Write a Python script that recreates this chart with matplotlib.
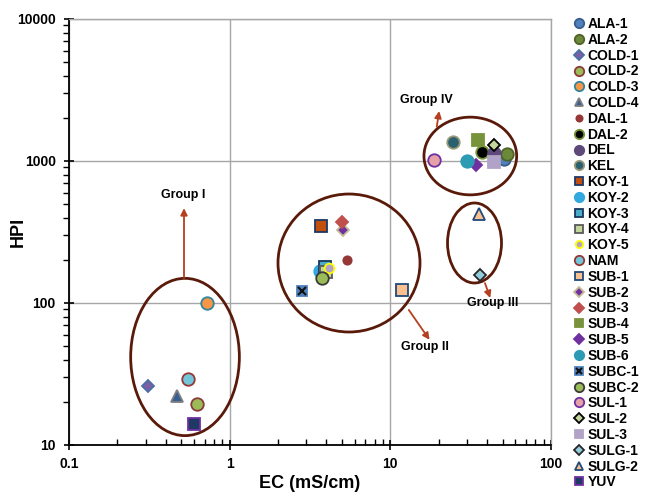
import matplotlib
matplotlib.use("Agg")
import matplotlib.pyplot as plt
from matplotlib.patches import Ellipse
from matplotlib.legend_handler import HandlerTuple
from matplotlib.ticker import LogLocator, NullFormatter, FuncFormatter

plt.rcParams['font.family'] = ['Liberation Sans', 'DejaVu Sans']
plt.rcParams['font.weight'] = 'bold'

# ---- data ----
sites = ["ALA-1", "ALA-2", "COLD-1", "COLD-2", "COLD-3", "COLD-4", "DAL-1", "DAL-2",
         "DEL", "KEL", "KOY-1", "KOY-2", "KOY-3", "KOY-4", "KOY-5", "NAM", "SUB-1",
         "SUB-2", "SUB-3", "SUB-4", "SUB-5", "SUB-6", "SUBC-1", "SUBC-2", "SUL-1",
         "SUL-2", "SUL-3", "SULG-1", "SULG-2", "YUV"]
ec = [51, 53, 0.31, 0.63, 0.72, 0.47, 5.4, 37,
      44, 24.5, 3.7, 3.63, 3.9, 4.0, 4.13, 0.55, 11.8,
      5.1, 5.0, 35, 34, 30, 2.8, 3.75, 18.8,
      44, 44, 36, 35.5, 0.60]
hpi = [1040, 1120, 26, 19.5, 100, 22, 200, 1160,
       1140, 1370, 350, 169, 180, 166, 177, 29, 123,
       325, 370, 1400, 935, 1000, 122, 151, 1010,
       1300, 990, 157, 420, 14]

# style per series: marker, face, edge, size
styles = {
    "ALA-1": ("o", "#4f81bd", "#385d8a", 9),
    "ALA-2": ("o", "#6a8a3a", "#4f6228", 9),
    "COLD-1": ("D", "#7b5fa5", "#4a6fa5", 6.5),
    "COLD-2": ("o", "#9bbb59", "#8b3a3a", 9),
    "COLD-3": ("o", "#f79646", "#31859c", 9),
    "COLD-4": ("^", "#366092", "#7f7f7f", 8),
    "DAL-1": ("o", "#953735", "#953735", 6),
    "DAL-2": ("o", "#000000", "#77933c", 9),
    "DEL": ("o", "#5f497a", "#5f497a", 9),
    "KEL": ("o", "#2a6070", "#9a9a7a", 9),
    "KOY-1": ("s", "#c0500b", "#1f3864", 8),
    "KOY-2": ("o", "#33a9e0", "#33a9e0", 9),
    "KOY-3": ("s", "#4bacc6", "#17375e", 8),
    "KOY-4": ("s", "#c3d69b", "#595959", 8),
    "KOY-5": ("o", "#b3a2c7", "#ffff00", 7),
    "NAM": ("o", "#72c6da", "#953735", 9),
    "SUB-1": ("s", "#fac090", "#1f497d", 8),
    "SUB-2": ("D", "#7030a0", "#c4bd97", 6.5),
    "SUB-3": ("D", "#c0504d", "#c0504d", 6.5),
    "SUB-4": ("s", "#77933c", "#77933c", 8),
    "SUB-5": ("D", "#7030a0", "#7030a0", 6.5),
    "SUB-6": ("o", "#2e9bb5", "#2e9bb5", 9),
    "SUBC-1": ("s", "#4f81bd", "#4f81bd", 7),
    "SUBC-2": ("o", "#9bbb59", "#3a3a3a", 9),
    "SUL-1": ("o", "#e6a0a8", "#7030a0", 9),
    "SUL-2": ("D", "#c3d69b", "#000000", 6.5),
    "SUL-3": ("s", "#b3a2c7", "#b3a2c7", 8),
    "SULG-1": ("D", "#93cddd", "#262626", 6.5),
    "SULG-2": ("^", "#fac090", "#1f497d", 8),
    "YUV": ("s", "#1f3864", "#7030a0", 8),
}

fig = plt.figure(figsize=(6.46, 4.99), dpi=100)
ax = fig.add_axes([69/646, 54/499, 482/646, 426/499])
ax.set_xscale('log')
ax.set_yscale('log')
ax.set_xlim(0.1, 100)
ax.set_ylim(10, 10000)

handles = []
for s, x, y in zip(sites, ec, hpi):
    m, fc, edc, ms = styles[s]
    h, = ax.plot([x], [y], linestyle='none', marker=m, markerfacecolor=fc,
                 markeredgecolor=edc, markersize=ms, markeredgewidth=1.3, zorder=3)
    if s == "SUBC-1":
        h2, = ax.plot([x], [y], linestyle='none', marker='x', color='#111111',
                      markersize=6, markeredgewidth=1.5, zorder=4)
        handles.append((h, h2))
    else:
        handles.append(h)

# grid and spines
ax.grid(True, which='major', color='#a6a6a6', linewidth=1, zorder=0)
ax.set_axisbelow(True)
for sp in ['top', 'right']:
    ax.spines[sp].set_color('#a6a6a6')
    ax.spines[sp].set_linewidth(1)
for sp in ['left', 'bottom']:
    ax.spines[sp].set_color('#000000')
    ax.spines[sp].set_linewidth(1.3)

ax.xaxis.set_major_locator(LogLocator(base=10))
ax.yaxis.set_major_locator(LogLocator(base=10))
ax.xaxis.set_minor_locator(LogLocator(base=10, subs=range(2, 10)))
ax.yaxis.set_minor_locator(LogLocator(base=10, subs=range(2, 10)))
ax.xaxis.set_minor_formatter(NullFormatter())
ax.yaxis.set_minor_formatter(NullFormatter())
ax.xaxis.set_major_formatter(FuncFormatter(lambda v, p: f"{v:g}"))
ax.yaxis.set_major_formatter(FuncFormatter(lambda v, p: f"{v:g}"))
ax.tick_params(axis='x', which='major', direction='inout', length=7, width=1.2, labelsize=10, pad=5)
ax.tick_params(axis='x', which='minor', direction='in', length=4, width=1)
ax.tick_params(axis='y', which='major', direction='inout', length=7, width=1.2, labelsize=10, pad=6)
ax.tick_params(axis='y', which='minor', direction='out', length=4, width=1)
for lab in ax.get_xticklabels() + ax.get_yticklabels():
    lab.set_fontweight('bold')

fig.text(310/646, 1-483/499, "EC (mS/cm)", ha='center', va='center', fontsize=13, fontweight='bold')
fig.text(18/646, 1-232/499, "HPI", ha='center', va='center', fontsize=13, fontweight='bold', rotation=90)

# group ellipses (axes fraction)
ell_color = '#5a1a0a'
for (cx, cy, w, h) in [(0.2407, 0.2066, 0.2255, 0.3692),
                       (0.5809, 0.4272, 0.2946, 0.3239),
                       (0.8326, 0.6784, 0.1923, 0.1824),
                       (0.8413, 0.4742, 0.1120, 0.1878)]:
    ax.add_patch(Ellipse((cx, cy), w, h, transform=ax.transAxes, fill=False,
                         edgecolor=ell_color, linewidth=2, zorder=2))

arrow_color = '#b5401f'
groups = [("Group I", (0.2386, 0.392), (0.2386, 0.556), (0.2365, 0.587)),
          ("Group IV", (0.763, 0.747), (0.768, 0.784), (0.742, 0.810)),
          ("Group II", (0.705, 0.317), (0.748, 0.247), (0.739, 0.230)),
          ("Group III", (0.863, 0.380), (0.874, 0.345), (0.880, 0.333))]
for name, start, end, tpos in groups:
    ax.annotate("", xy=end, xytext=start, xycoords='axes fraction', textcoords='axes fraction',
                arrowprops=dict(arrowstyle='-|>', color=arrow_color, lw=1.3, mutation_scale=10,
                                shrinkA=0, shrinkB=0), zorder=2)
    ax.text(tpos[0], tpos[1], name, transform=ax.transAxes, ha='center', va='center',
            fontsize=9, fontweight='bold', zorder=5)

leg = fig.legend(handles, sites, loc='upper left', bbox_to_anchor=(573/646, 1-17/499),
                 frameon=False, fontsize=10, handlelength=0.8, handletextpad=0.25,
                 labelspacing=0.13, borderpad=0, borderaxespad=0, markerscale=0.75,
                 handler_map={tuple: HandlerTuple(ndivide=1)})
for t in leg.get_texts():
    t.set_fontweight('bold')

fig.savefig("out.png", dpi=100)
